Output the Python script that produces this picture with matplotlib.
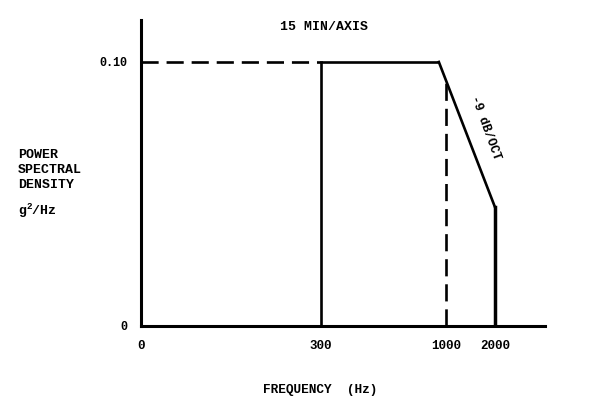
import numpy as np
import matplotlib
matplotlib.use("Agg")
import matplotlib.pyplot as plt

# random vibration spectrum, 15 min per axis
freq_ticks = [0, 300, 1000, 2000]
tick_labels = ["0", "300", "1000", "2000"]
plateau_freq = [300, 960]
plateau_psd = [0.10, 0.10]
rolloff_freq = [960, 2000]
rolloff_psd = [0.10, 0.045]
psd_level = 0.10
y_ticks = [0, 0.10]
y_tick_labels = ["0", "0.10"]

# schematic (not to scale) frequency axis: frequency -> drawing position
FREQ_ANCHORS = [0, 300, 1000, 2000, 2800]
POS_ANCHORS = [0, 180, 305, 354, 404]
fwd = lambda f: np.interp(f, FREQ_ANCHORS, POS_ANCHORS)
inv = lambda p: np.interp(p, POS_ANCHORS, FREQ_ANCHORS)

plt.rcParams["font.family"] = ["Liberation Mono", "DejaVu Sans Mono"]
plt.rcParams["font.weight"] = "bold"
plt.rcParams["mathtext.default"] = "regular"

W, H = 593, 416
fig = plt.figure(figsize=(W / 100, H / 100), dpi=100)
ax = fig.add_axes([141 / W, 1 - 326 / H, (545 - 141) / W, (326 - 20) / H])
ax.set_xscale("function", functions=(fwd, inv))
ax.set_xlim(0, 2800)
ax.set_ylim(0, 0.1159)

lw = 1.9
dash = (0, (6.5, 3))
ax.plot([0, plateau_freq[0]], [psd_level, psd_level], color="black", lw=lw, ls=dash)
ax.plot([plateau_freq[0]] * 2, [0, plateau_psd[0]], color="black", lw=lw)
ax.plot(plateau_freq, plateau_psd, color="black", lw=lw, solid_capstyle="butt")
ax.plot(rolloff_freq, rolloff_psd, color="black", lw=lw)
ax.plot([rolloff_freq[1]] * 2, [0, rolloff_psd[1]], color="black", lw=lw + 0.6)
ax.plot([1000] * 2, [0, 0.092], color="black", lw=lw, ls=dash)

for s in ["top", "right"]:
    ax.spines[s].set_visible(False)
for s in ["left", "bottom"]:
    ax.spines[s].set_linewidth(2.2)

ax.set_xticks(freq_ticks)
ax.set_xticklabels(tick_labels, fontsize=9)
ax.set_yticks(y_ticks)
ax.set_yticklabels(y_tick_labels, fontsize=8.5)
ax.minorticks_off()
ax.tick_params(axis="x", length=0, pad=10)
ax.tick_params(axis="y", length=0, pad=10)

ax.text(1800, 0.075, "-9 dB/OCT", rotation=-70, fontsize=9,
        ha="center", va="center")
fig.text(324 / W, 1 - 27 / H, "15 MIN/AXIS", fontsize=9.5, ha="center", va="center")
fig.text(320 / W, 1 - 390 / H, "FREQUENCY  (Hz)", fontsize=9.2, ha="center", va="center")
fig.text(18 / W, 1 - 149 / H, "POWER\nSPECTRAL\nDENSITY", fontsize=9.5,
         ha="left", va="top", linespacing=1.33)
fig.text(18 / W, 1 - 211 / H, "g$^{2}$/Hz", fontsize=9.5, ha="left", va="center")

fig.savefig("out.png", dpi=100, facecolor="white")
